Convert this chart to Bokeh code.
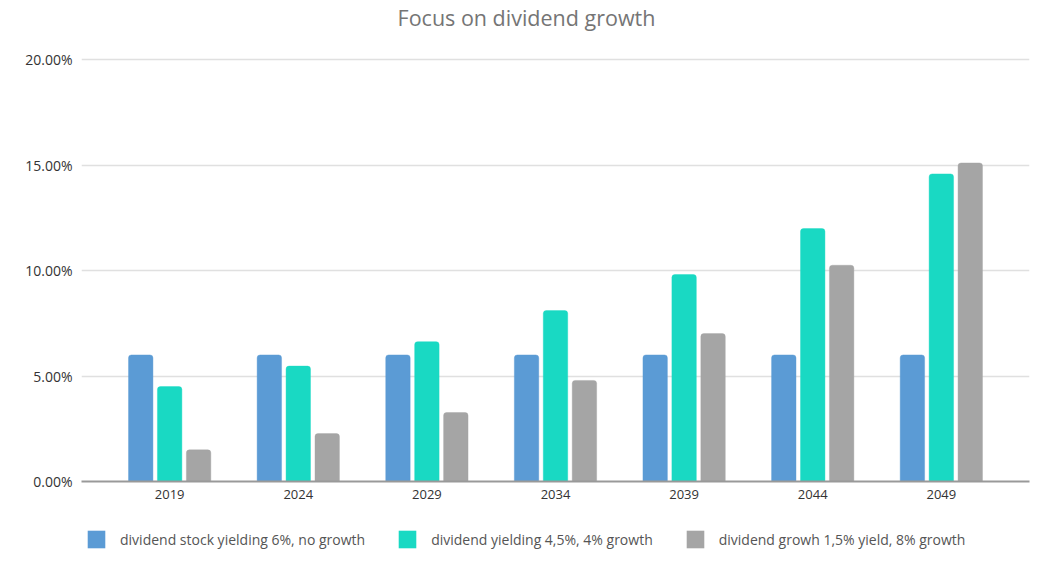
from bokeh.plotting import figure
from bokeh.layouts import column
from bokeh.models import ColumnDataSource, FactorRange, Legend, LegendItem, PrintfTickFormatter, FixedTicker, Range1d, Label
from bokeh.transform import dodge
from bokeh.embed import file_html
from bokeh.resources import INLINE

title_text = "Focus on dividend growth"
years = ["2019", "2024", "2029", "2034", "2039", "2044", "2049"]
no_growth = [6.0, 6.0, 6.0, 6.0, 6.0, 6.0, 6.0]
yield_4_5 = [4.5, 5.47, 6.63, 8.1, 9.81, 11.99, 14.58]
growth_8 = [1.5, 2.27, 3.27, 4.79, 7.01, 10.25, 15.1]
series_labels = [
    "dividend stock yielding 6%, no growth",
    "dividend yielding 4,5%, 4% growth",
    "dividend growh 1,5% yield, 8% growth",
]
colors = ["#5b9bd5", "#19d9c3", "#a5a5a5"]
y_ticks = [0, 5, 10, 15, 20]

src = ColumnDataSource(dict(year=years, a=no_growth, b=yield_4_5, c=growth_8))

FONT = "Open Sans"
offsets = [-0.225, 0.0, 0.225]
cols = ["a", "b", "c"]

# frame covers the title area too; 20% gridline sits 59px below the top
p = figure(
    x_range=FactorRange(factors=years, range_padding=0.053, range_padding_units="percent"),
    y_range=Range1d(0, 22.8),
    frame_width=948, frame_height=481,
    min_border_left=81, min_border_right=12, min_border_top=0, min_border_bottom=26,
    output_backend="svg", toolbar_location=None,
)

for col, off, color in zip(cols, offsets, colors):
    p.vbar(x=dodge("year", off, range=p.x_range), top=col, width=0.19, source=src,
           fill_color=color, line_color=color, line_alpha=0.4,
           border_radius=(3, 3, 0, 0))

p.add_layout(Label(x=445, y=22.0, x_units="screen", y_units="data", text=title_text,
                   text_font=FONT, text_font_size="21.5px", text_color="#757575",
                   text_align="center", text_baseline="middle"))

p.outline_line_color = None
p.background_fill_color = "white"
p.border_fill_color = "white"
p.xgrid.grid_line_color = None
p.ygrid.grid_line_color = "#e0e0e0"
p.ygrid.grid_line_width = 1.5
p.yaxis.ticker = FixedTicker(ticks=y_ticks)
p.yaxis.formatter = PrintfTickFormatter(format="%.2f%%")
p.yaxis.axis_line_color = None
p.yaxis.major_tick_line_color = None
p.yaxis.major_tick_out = 0
p.yaxis.major_tick_in = 0
p.yaxis.minor_tick_line_color = None
p.yaxis.major_label_text_font = FONT
p.yaxis.major_label_text_font_size = "14px"
p.yaxis.major_label_text_color = "#333333"
p.yaxis.major_label_standoff = 9

p.xaxis.axis_line_color = "#999999"
p.xaxis.axis_line_width = 2
p.xaxis.major_tick_line_color = None
p.xaxis.major_tick_out = 0
p.xaxis.major_tick_in = 0
p.xaxis.minor_tick_line_color = None
p.xaxis.major_label_text_font = FONT
p.xaxis.major_label_text_font_size = "13px"
p.xaxis.major_label_text_color = "#333333"
p.xaxis.major_label_standoff = 8

# legend strip below the chart: same series, drawn out of view so only swatches show
lg = figure(
    x_range=p.x_range, y_range=Range1d(1000, 1001),
    frame_width=948, frame_height=59,
    min_border_left=81, min_border_right=12, min_border_top=0, min_border_bottom=0,
    x_axis_location=None, y_axis_location=None,
    output_backend="svg", toolbar_location=None,
)
lg.xgrid.grid_line_color = None
lg.ygrid.grid_line_color = None
lg.outline_line_color = None
lg.border_fill_color = "white"
swatches = []
for col, off, color in zip(cols, offsets, colors):
    swatches.append(lg.vbar(x=dodge("year", off, range=lg.x_range), top=col, width=0.19, source=src,
                            fill_color=color, line_color=None))

legend = Legend(
    items=[LegendItem(label=l, renderers=[r]) for l, r in zip(series_labels, swatches)],
    orientation="horizontal",
    location=(4, 16),
    glyph_width=22, glyph_height=22,
    label_standoff=13, spacing=31,
    label_text_font=FONT, label_text_font_size="14px", label_text_color="#555555",
    border_line_color=None, background_fill_alpha=0,
    padding=0, margin=0,
)
lg.add_layout(legend, "center")

layout = column(p, lg, spacing=0)
open("out.html", "w").write(file_html(layout, INLINE))
